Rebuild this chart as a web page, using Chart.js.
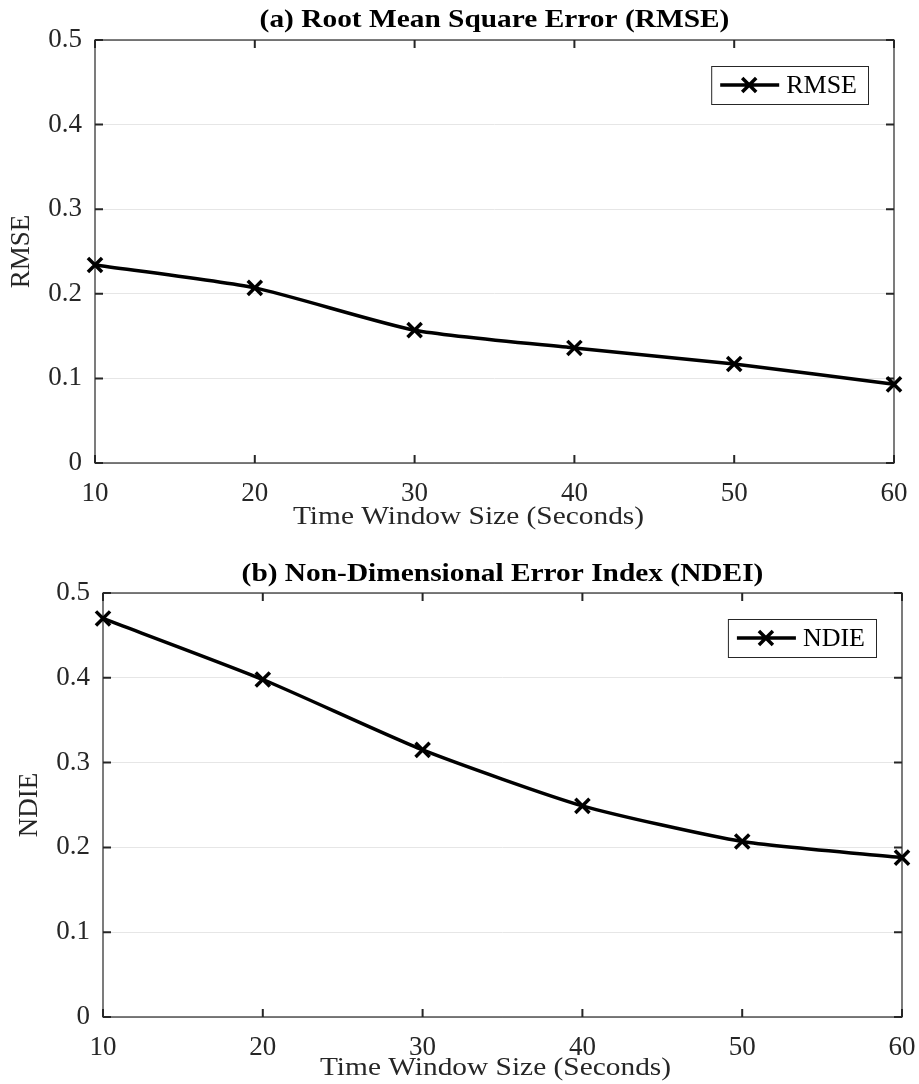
<!DOCTYPE html>
<html>
<head>
<meta charset="utf-8">
<script src="https://cdn.jsdelivr.net/npm/chart.js@4"></script>
<style>
  body { margin: 0; background: #fff; }
  .box { position: relative; width: 919px; }
  #top-box { height: 540px; }
  #bottom-box { height: 544px; }
</style>
</head>
<body>
<div class="box" id="top-box"><canvas id="rmse-chart"></canvas></div>
<div class="box" id="bottom-box"><canvas id="ndei-chart"></canvas></div>
<script>
const windowSizes = [10, 20, 30, 40, 50, 60];
const rmseValues = [0.234, 0.207, 0.157, 0.136, 0.117, 0.093];
const ndieValues = [0.470, 0.398, 0.315, 0.249, 0.207, 0.188];
const yTicks = [0, 0.1, 0.2, 0.3, 0.4, 0.5];
const xAxisTitle = "Time Window Size (Seconds)";

const FONT = "'Liberation Serif', 'Times New Roman', serif";
const INK = "#262626";
const FS = 27;
const STRETCH = 1.13; // the original figure text is a bit wide

function wideText(ctx, text, cx, cy, font, color) {
  ctx.save();
  ctx.font = font;
  ctx.fillStyle = color;
  ctx.textAlign = "center";
  ctx.textBaseline = "middle";
  ctx.translate(cx, cy);
  ctx.scale(STRETCH, 1);
  ctx.fillText(text, 0, 0);
  ctx.restore();
}

// box around the plot area + inward ticks on all four sides (matlab look)
const boxPlugin = {
  id: "box",
  beforeDatasetsDraw(chart) {
    const { ctx, chartArea: a, scales } = chart;
    ctx.save();
    ctx.strokeStyle = INK;
    ctx.lineWidth = 1.2;
    ctx.strokeRect(a.left, a.top, a.right - a.left, a.bottom - a.top);
    ctx.beginPath();
    scales.x.ticks.forEach((t) => {
      const x = scales.x.getPixelForValue(t.value);
      ctx.moveTo(x, a.bottom); ctx.lineTo(x, a.bottom - 8);
      ctx.moveTo(x, a.top); ctx.lineTo(x, a.top + 8);
    });
    scales.y.ticks.forEach((t) => {
      const y = scales.y.getPixelForValue(t.value);
      ctx.moveTo(a.left, y); ctx.lineTo(a.left + 8, y);
      ctx.moveTo(a.right, y); ctx.lineTo(a.right - 8, y);
    });
    ctx.lineWidth = 2;
    ctx.stroke();
    ctx.restore();
  },
  afterDraw(chart, args, opts) {
    const { ctx, chartArea: a } = chart;
    const mid = (a.left + a.right) / 2;
    wideText(ctx, opts.title, mid, opts.titleY, "bold 26px " + FONT, "#000");
    wideText(ctx, xAxisTitle, mid + opts.xTitleDx, opts.xTitleY, "26px " + FONT, INK);

    // legend box in the upper right corner
    const ds = chart.data.datasets[0];
    ctx.save();
    ctx.font = "26px " + FONT;
    const w = 75 + ctx.measureText(ds.label).width + 11;
    const h = 38;
    const x0 = a.right - 26 - w;
    const y0 = a.top + 26;
    ctx.fillStyle = "#fff";
    ctx.fillRect(x0, y0, w, h);
    ctx.strokeStyle = INK;
    ctx.lineWidth = 1;
    ctx.strokeRect(x0 + 0.5, y0 + 0.5, w, h);
    const cy = y0 + h / 2;
    ctx.strokeStyle = "#000";
    ctx.lineWidth = 3.5;
    ctx.beginPath();
    ctx.moveTo(x0 + 9, cy); ctx.lineTo(x0 + 68, cy);
    ctx.moveTo(x0 + 38 - 7, cy - 7); ctx.lineTo(x0 + 38 + 7, cy + 7);
    ctx.moveTo(x0 + 38 - 7, cy + 7); ctx.lineTo(x0 + 38 + 7, cy - 7);
    ctx.stroke();
    ctx.fillStyle = "#000";
    ctx.textBaseline = "middle";
    ctx.fillText(ds.label, x0 + 75, cy + 1);
    ctx.restore();
  }
};

function makeConfig(label, values, title, lay) {
  return {
    type: "line",
    data: {
      datasets: [{
        label: label,
        data: windowSizes.map((x, i) => ({ x: x, y: values[i] })),
        borderColor: "#000",
        backgroundColor: "#000",
        borderWidth: 3.5,
        tension: 0.2,
        pointStyle: "crossRot",
        pointRadius: 10,
        pointBorderWidth: 3.5,
        pointBorderColor: "#000",
        clip: false,
      }],
    },
    options: {
      responsive: true,
      maintainAspectRatio: false,
      animation: false,
      layout: { padding: { left: 0, right: lay.right, top: lay.top, bottom: 0 } },
      plugins: {
        legend: { display: false },
        tooltip: { enabled: false },
        title: { display: false },
        box: { title: title, titleY: lay.titleY, xTitleY: lay.xTitleY, xTitleDx: lay.xTitleDx },
      },
      scales: {
        x: {
          type: "linear",
          min: 10,
          max: 60,
          afterFit(s) { s.height = lay.xHeight; s.paddingLeft = 0; s.paddingRight = 0; },
          ticks: {
            stepSize: 10,
            color: INK,
            padding: 15,
            maxRotation: 0,
            font: { family: FONT, size: FS },
          },
          grid: { display: false, drawTicks: false },
          border: { display: false },
          title: { display: false },
        },
        y: {
          min: 0,
          max: 0.5,
          afterFit(s) { s.width = lay.yWidth; },
          afterBuildTicks(s) { s.ticks = yTicks.map((v) => ({ value: v })); },
          ticks: {
            color: INK,
            padding: 13,
            font: { family: FONT, size: FS },
            callback: (v) => (v === 0 ? "0" : v.toFixed(1)),
          },
          grid: { color: "#e6e6e6", lineWidth: 1, drawTicks: false },
          border: { display: false },
          title: {
            display: true,
            text: label,
            color: INK,
            font: { family: FONT, size: FS, lineHeight: 1.2 },
            padding: { top: lay.yTitleTop, bottom: 0 },
          },
        },
      },
    },
    plugins: [boxPlugin],
  };
}

new Chart(document.getElementById("rmse-chart"), makeConfig(
  "RMSE", rmseValues, "(a) Root Mean Square Error (RMSE)",
  { right: 25, top: 40, titleY: 20, xHeight: 77, xTitleY: 517, xTitleDx: -26, yWidth: 95, yTitleTop: 5.8 }
));

new Chart(document.getElementById("ndei-chart"), makeConfig(
  "NDIE", ndieValues, "(b) Non-Dimensional Error Index (NDEI)",
  { right: 17, top: 53, titleY: 34, xHeight: 67, xTitleY: 528, xTitleDx: -7, yWidth: 103, yTitleTop: 13.8 }
));
</script>
</body>
</html>
